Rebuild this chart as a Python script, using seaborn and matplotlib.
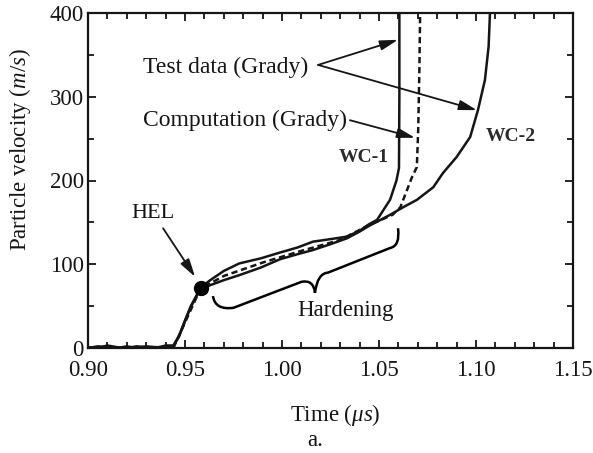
import numpy as np
import pandas as pd
import matplotlib
matplotlib.use("Agg")
import matplotlib.pyplot as plt
import seaborn as sns
from matplotlib.path import Path
from matplotlib.patches import PathPatch
from matplotlib.ticker import MultipleLocator

# ---- data ----
wc1_t = [0.900, 0.905, 0.910, 0.915, 0.920, 0.925, 0.930, 0.935, 0.940, 0.944,
         0.947, 0.950, 0.953, 0.956, 0.958, 0.963, 0.970, 0.978, 0.989, 0.999,
         1.008, 1.016, 1.025, 1.0335, 1.040, 1.045, 1.049, 1.0557, 1.059, 1.0603,
         1.0605, 1.0605]
wc1_v = [1, 0, 3, 1, 0, 2, 1, 0, 3, 3,
         15, 33, 50, 63, 72, 81, 92, 101, 107, 114,
         120, 127, 130, 133, 140, 148, 153, 177, 200, 215,
         300, 400]

wc2_t = [0.900, 0.905, 0.910, 0.915, 0.920, 0.925, 0.930, 0.935, 0.940, 0.944,
         0.947, 0.950, 0.953, 0.956, 0.958, 0.963, 0.970, 0.978, 0.989, 0.999,
         1.008, 1.016, 1.025, 1.0335, 1.040, 1.045, 1.050, 1.0557, 1.0624, 1.0696,
         1.078, 1.083, 1.090, 1.097, 1.101, 1.1046, 1.1065, 1.1072]
wc2_v = [0, 2, 1, 0, 2, 0, 2, 1, 1, 2,
         14, 32, 49, 62, 70, 75, 81, 87, 96, 106,
         112, 117, 124, 131, 139, 146, 152, 159, 168, 177,
         192, 209, 228, 252, 284, 320, 360, 400]

comp_t = [0.944, 0.958, 0.970, 0.990, 1.010, 1.030, 1.045, 1.052, 1.057, 1.061,
          1.067, 1.0695, 1.0702, 1.0708, 1.0712]
comp_v = [0, 71, 86, 102, 116, 129, 147, 154, 159, 168,
          204, 216, 260, 330, 400]

hel_t = [0.958]
hel_v = [72]

x_ticks = [0.90, 0.95, 1.00, 1.05, 1.10, 1.15]
y_ticks = [0, 100, 200, 300, 400]

sns.set_theme(style="ticks")
plt.rcParams["font.family"] = ["Liberation Serif", "DejaVu Serif"]
plt.rcParams["mathtext.fontset"] = "custom"
plt.rcParams["mathtext.rm"] = "Liberation Serif"
plt.rcParams["mathtext.it"] = "Liberation Serif:italic"

fig = plt.figure(figsize=(5.93, 4.53), dpi=100)
ax = fig.add_axes([88 / 593, 1 - 348 / 453, (573 - 88) / 593, (348 - 13) / 453])

ink = "#151515"
d1 = pd.DataFrame({"t": wc1_t, "v": wc1_v})
d2 = pd.DataFrame({"t": wc2_t, "v": wc2_v})
dc = pd.DataFrame({"t": comp_t, "v": comp_v})
sns.lineplot(data=d1, x="t", y="v", sort=False, estimator=None, color=ink, lw=1.8, ax=ax)
sns.lineplot(data=d2, x="t", y="v", sort=False, estimator=None, color=ink, lw=1.8, ax=ax)
sns.lineplot(data=dc, x="t", y="v", sort=False, estimator=None, color=ink, lw=1.8,
             ax=ax, linestyle=(0, (2.5, 1.5)))
ax.plot(hel_t, hel_v, "o", color="black", ms=10, zorder=5)

ax.set_xlim(0.90, 1.15)
ax.set_ylim(0, 400)
ax.set_xticks(x_ticks)
ax.set_xticklabels([f"{t:.2f}" for t in x_ticks])
ax.set_yticks(y_ticks)
ax.xaxis.set_minor_locator(MultipleLocator(0.01))
ax.yaxis.set_minor_locator(MultipleLocator(50))
ax.tick_params(which="both", direction="in", top=True, right=True, colors=ink,
               labelsize=16.5, width=1.3)
ax.tick_params(which="major", length=6)
ax.tick_params(which="minor", length=4)
ax.tick_params(axis="x", pad=9)
ax.tick_params(axis="y", pad=3)
for s in ax.spines.values():
    s.set_linewidth(1.6)
    s.set_color(ink)
    s.set_visible(True)
ax.set_xlabel("")
ax.set_ylabel("")

fs = 17
ax.text(0.9284, 335.5, "Test data (Grady)", fontsize=fs, ha="left", va="center", color=ink)
ax.text(0.9284, 272, "Computation (Grady)", fontsize=fs, ha="left", va="center", color=ink)
arrow = dict(arrowstyle="-|>,head_length=0.9,head_width=0.25", color=ink, lw=1.3,
             shrinkA=0, shrinkB=0)
ax.annotate("", xy=(1.0598, 368), xytext=(1.0186, 338), arrowprops=arrow)
ax.annotate("", xy=(1.1005, 284), xytext=(1.0186, 338), arrowprops=arrow)
ax.annotate("", xy=(1.0686, 251), xytext=(1.035, 272), arrowprops=arrow)
ax.annotate("", xy=(0.9552, 85), xytext=(0.9387, 143), arrowprops=arrow)
ax.text(0.9335, 161, "HEL", fontsize=16, ha="center", va="center", color=ink)
ax.text(1.0423, 227, "WC-1", fontsize=14, fontweight="bold", ha="center", va="center",
        color="#2a2a2a")
ax.text(1.118, 252, "WC-2", fontsize=14, fontweight="bold", ha="center", va="center",
        color="#2a2a2a")
ax.text(1.0325, 45, "Hardening", fontsize=16.5, ha="center", va="center", color=ink)

# curly brace marking the hardening region
verts = [(0.9644, 62), (0.9655, 45), (0.9750, 48),
         (1.0100, 79),
         (1.0162, 82), (1.0170, 66),
         (1.0182, 89), (1.0237, 90),
         (1.0557, 119.4),
         (1.0610, 122), (1.0598, 143)]
codes = [Path.MOVETO, Path.CURVE3, Path.CURVE3,
         Path.LINETO,
         Path.CURVE3, Path.CURVE3,
         Path.CURVE3, Path.CURVE3,
         Path.LINETO,
         Path.CURVE3, Path.CURVE3]
ax.add_patch(PathPatch(Path(verts, codes), facecolor="none", edgecolor="black", lw=1.8))

fig.text(335 / 593, 1 - 415 / 453, "Time ($μs$)", fontsize=16.5, ha="center", va="center",
         color=ink)
fig.text(315 / 593, 1 - 440 / 453, "a.", fontsize=16.5, ha="center", va="center", color=ink)
fig.text(20 / 593, 1 - 149 / 453, "Particle velocity ($m/s$)", fontsize=16.5, rotation=90,
         ha="center", va="center", color=ink)

fig.savefig("out.png", dpi=100, facecolor="white")
